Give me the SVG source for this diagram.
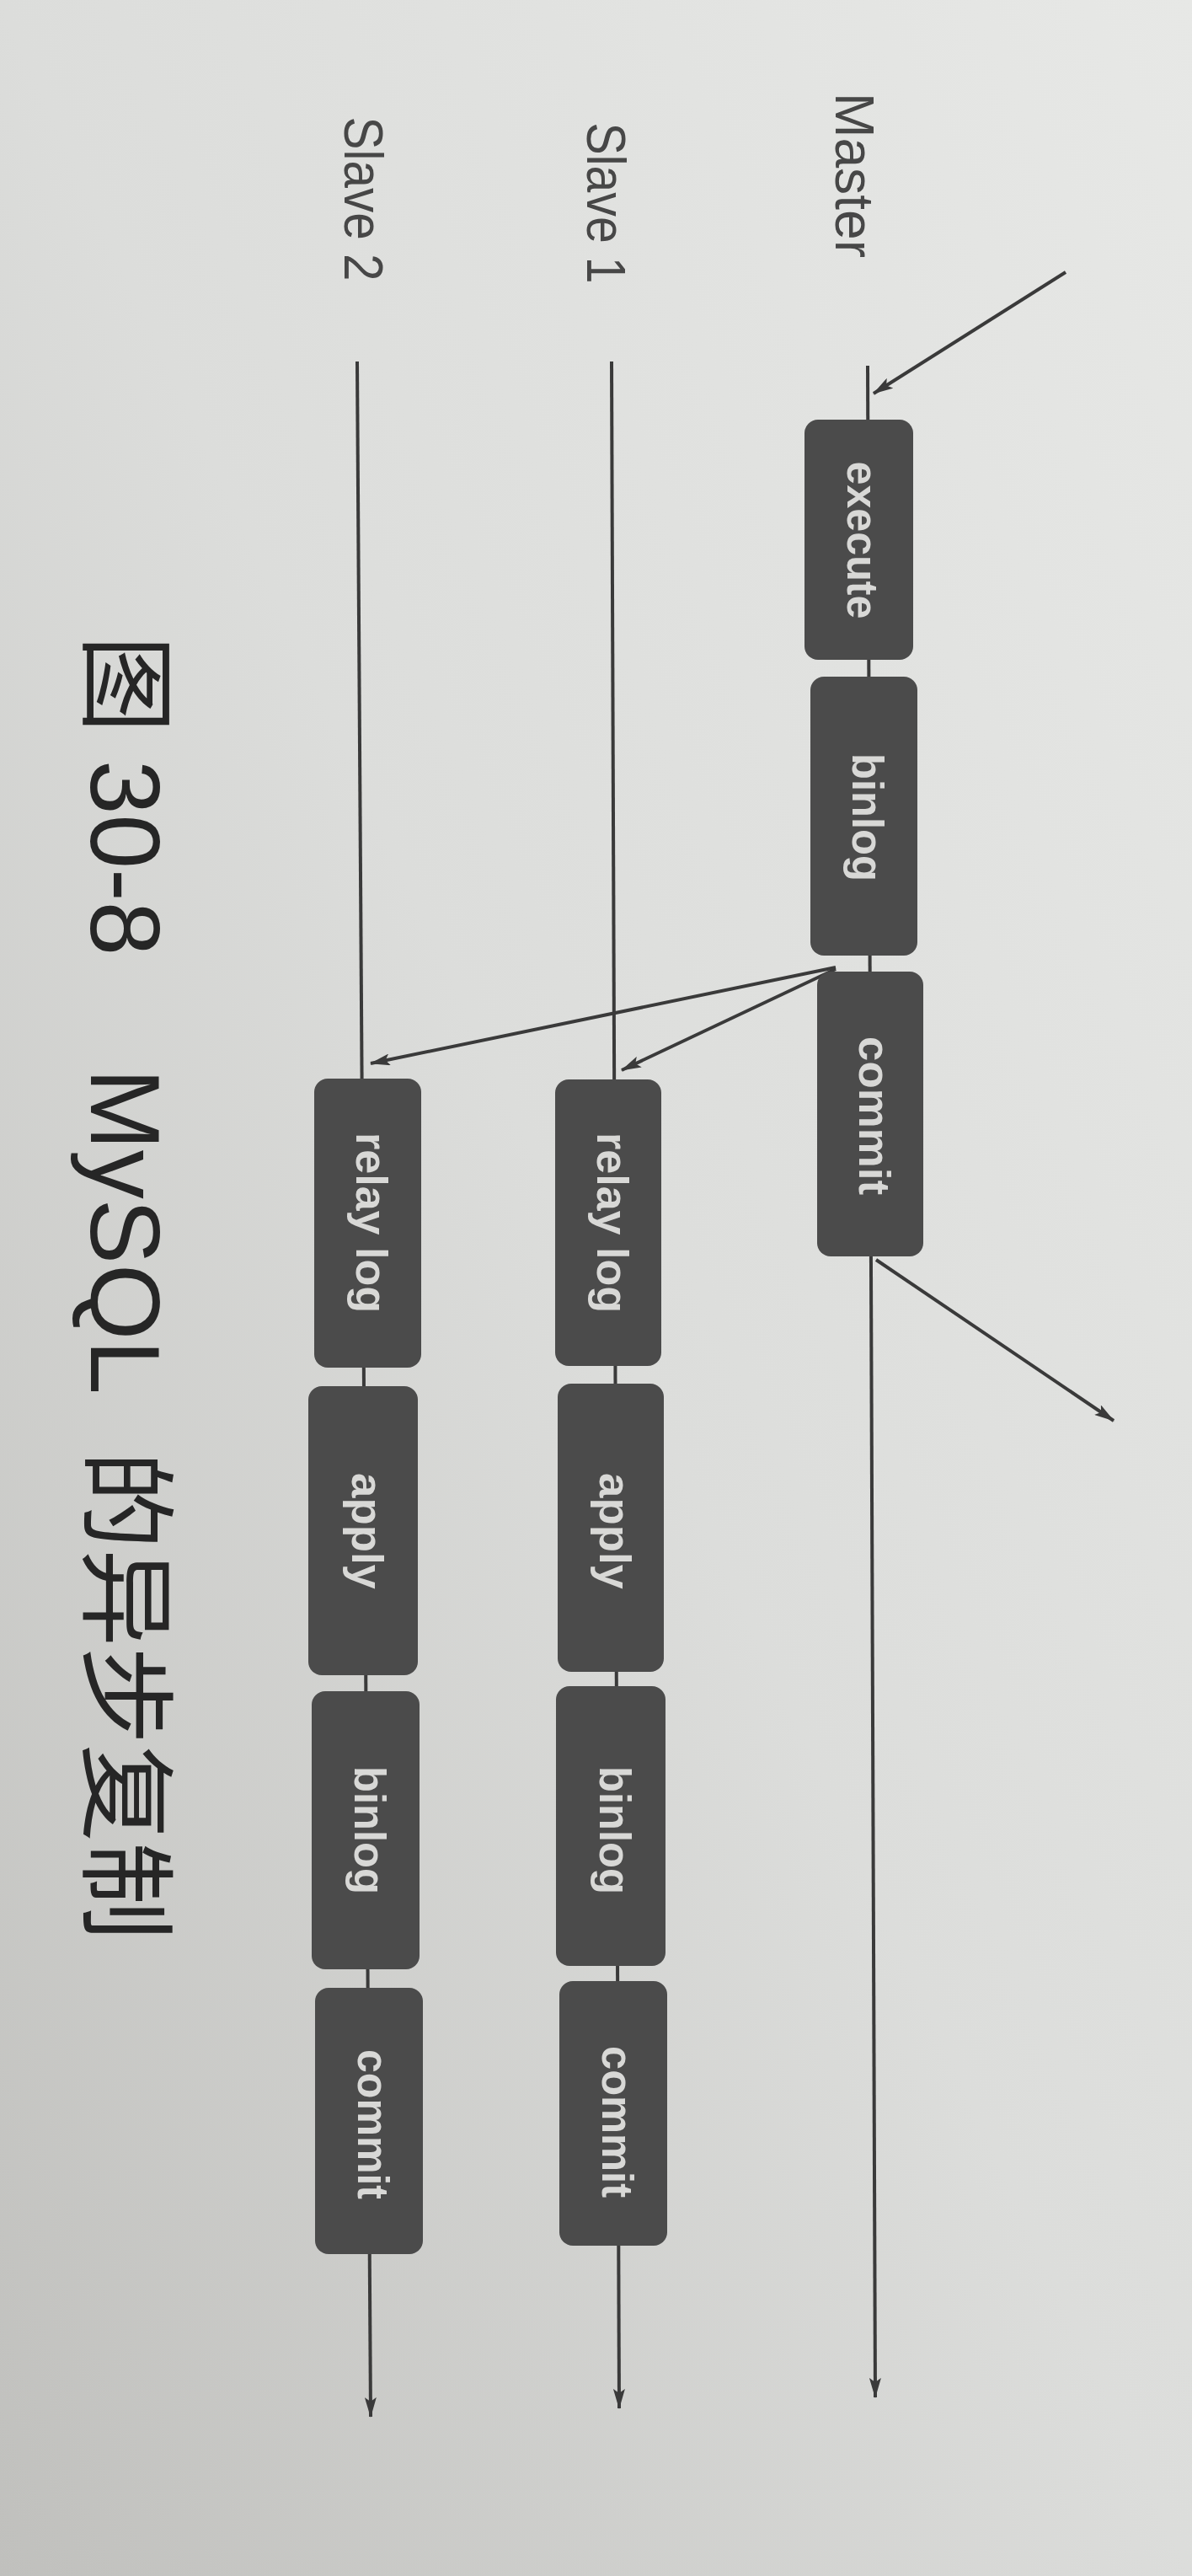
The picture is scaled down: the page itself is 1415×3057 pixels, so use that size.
<svg xmlns="http://www.w3.org/2000/svg" width="1415" height="3057" viewBox="0 0 1415 3057">
  <defs>
    <linearGradient id="bg" x1="1" y1="0" x2="0" y2="1">
      <stop offset="0" stop-color="#e7e8e6"/>
      <stop offset="0.5" stop-color="#dcdddb"/>
      <stop offset="1" stop-color="#c0c0bd"/>
    </linearGradient>
    <marker id="ah" viewBox="0 0 24 14" refX="23" refY="7" markerWidth="24" markerHeight="14" markerUnits="userSpaceOnUse" orient="auto">
      <path d="M0,0 L24,7 L0,14 L5,7 Z" fill="#3a3a3a"/>
    </marker>
    <style>
      .box { fill: #4b4b4b; }
      .bt { font-family: "Liberation Sans", Arial, sans-serif; font-weight: bold; font-size: 52px; fill: #d8d8d6; text-anchor: middle; }
      .lbl { font-family: "Liberation Sans", Arial, sans-serif; font-size: 64px; fill: #474747; text-anchor: middle; }
      .ttl { font-family: "Liberation Sans", "Noto Sans CJK SC", sans-serif; font-size: 116px; fill: #262626; }
      .ln { stroke: #3a3a3a; stroke-width: 4.5; fill: none; }
      .ar { stroke: #3a3a3a; stroke-width: 4; fill: none; marker-end: url(#ah); }
    </style>
  </defs>
  <rect x="0" y="0" width="1415" height="3057" fill="url(#bg)"/>

  <!-- lane labels -->
  <g id="labels">
    <text class="lbl" transform="translate(992,208) rotate(90)" textLength="196" lengthAdjust="spacingAndGlyphs">Master</text>
    <text class="lbl" transform="translate(697,241) rotate(90)" textLength="191" lengthAdjust="spacingAndGlyphs">Slave 1</text>
    <text class="lbl" transform="translate(409,236) rotate(90)" textLength="195" lengthAdjust="spacingAndGlyphs">Slave 2</text>
  </g>

  <!-- connectors -->
  <g id="connectors">
    <line class="ln ar" x1="1030" y1="434" x2="1039" y2="2845"/>
    <line class="ln ar" x1="726" y1="429" x2="735" y2="2858"/>
    <line class="ln ar" x1="424" y1="429" x2="440" y2="2868"/>
    <line class="ar" x1="1265" y1="323" x2="1037" y2="467"/>
    <line class="ar" x1="992" y1="1150" x2="738" y2="1270"/>
    <line class="ar" x1="992" y1="1148" x2="440" y2="1262"/>
    <line class="ar" x1="1040" y1="1495" x2="1322" y2="1686"/>
  </g>

  <!-- Master -->
  <g id="m-execute"><rect class="box" x="955" y="498" width="129" height="285" rx="16"/><text class="bt" transform="translate(1006,641) rotate(90)" textLength="187" lengthAdjust="spacingAndGlyphs">execute</text></g>
  <g id="m-binlog"><rect class="box" x="962" y="803" width="127" height="331" rx="16"/><text class="bt" transform="translate(1012,970) rotate(90)" textLength="152" lengthAdjust="spacingAndGlyphs">binlog</text></g>
  <g id="m-commit"><rect class="box" x="970" y="1153" width="126" height="338" rx="16"/><text class="bt" transform="translate(1020,1324) rotate(90)" textLength="188" lengthAdjust="spacingAndGlyphs">commit</text></g>

  <!-- Slave 1 -->
  <g id="s1-relaylog"><rect class="box" x="659" y="1281" width="126" height="340" rx="16"/><text class="bt" transform="translate(709,1451) rotate(90)" textLength="214" lengthAdjust="spacingAndGlyphs">relay log</text></g>
  <g id="s1-apply"><rect class="box" x="662" y="1642" width="126" height="342" rx="16"/><text class="bt" transform="translate(712,1817) rotate(90)" textLength="138" lengthAdjust="spacingAndGlyphs">apply</text></g>
  <g id="s1-binlog"><rect class="box" x="660" y="2001" width="130" height="332" rx="16"/><text class="bt" transform="translate(712,2172) rotate(90)" textLength="152" lengthAdjust="spacingAndGlyphs">binlog</text></g>
  <g id="s1-commit"><rect class="box" x="664" y="2351" width="128" height="314" rx="16"/><text class="bt" transform="translate(715,2518) rotate(90)" textLength="180" lengthAdjust="spacingAndGlyphs">commit</text></g>

  <!-- Slave 2 -->
  <g id="s2-relaylog"><rect class="box" x="373" y="1280" width="127" height="343" rx="16"/><text class="bt" transform="translate(423,1451) rotate(90)" textLength="214" lengthAdjust="spacingAndGlyphs">relay log</text></g>
  <g id="s2-apply"><rect class="box" x="366" y="1645" width="130" height="343" rx="16"/><text class="bt" transform="translate(418,1817) rotate(90)" textLength="138" lengthAdjust="spacingAndGlyphs">apply</text></g>
  <g id="s2-binlog"><rect class="box" x="370" y="2007" width="128" height="330" rx="16"/><text class="bt" transform="translate(421,2172) rotate(90)" textLength="152" lengthAdjust="spacingAndGlyphs">binlog</text></g>
  <g id="s2-commit"><rect class="box" x="374" y="2359" width="128" height="316" rx="16"/><text class="bt" transform="translate(425,2521) rotate(90)" textLength="178" lengthAdjust="spacingAndGlyphs">commit</text></g>

  <!-- caption -->
  <g id="caption">
    <text class="ttl" transform="translate(108,0) rotate(90)"><tspan x="754">图</tspan><tspan x="902">30-8</tspan><tspan x="1268">MySQL</tspan><tspan x="1722">的异步复制</tspan></text>
  </g>
</svg>
